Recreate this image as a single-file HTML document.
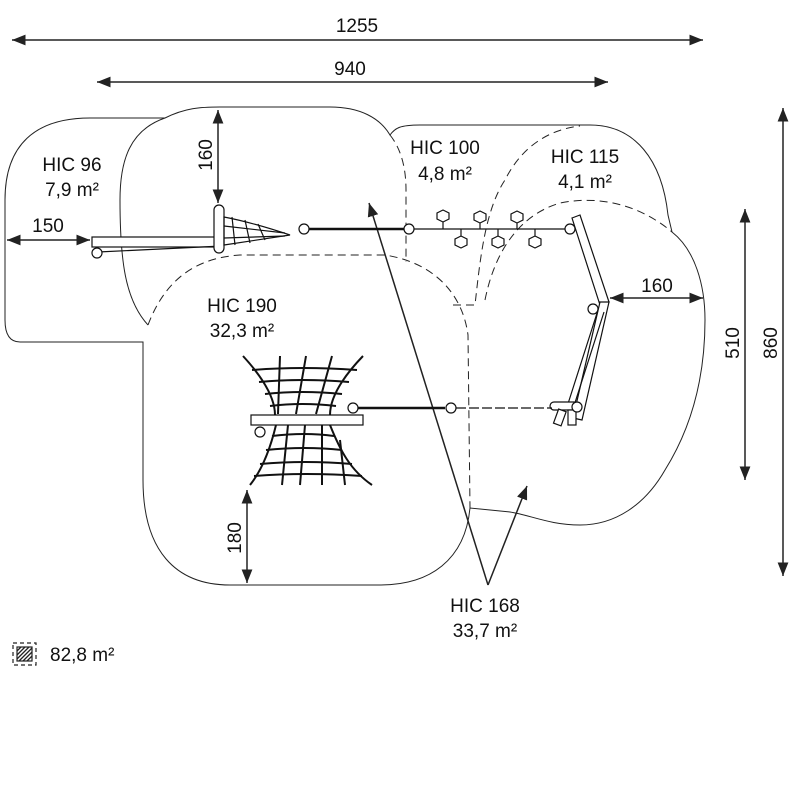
<!DOCTYPE html>
<html><head><meta charset="utf-8"><style>
html,body{margin:0;padding:0;background:#fff;}
svg{display:block;}
text{font-family:"Liberation Sans",sans-serif;font-size:19px;fill:#111;}
</style></head><body>
<svg width="800" height="800" viewBox="0 0 800 800" xmlns="http://www.w3.org/2000/svg">
<defs>
<marker id="a" viewBox="0 0 10 10" refX="10" refY="5" markerWidth="9" markerHeight="9" orient="auto-start-reverse"><path d="M0,1 L10,5 L0,9 Z" fill="#222"/></marker>
</defs>
<g fill="none" stroke="#222" stroke-width="1">
<path d="M5,200 C5,145 35,118 90,118 L165,118 C185,108 200,107 220,107 L330,107 C360,107 380,118 390,135 C395,128 400,125 420,125 L590,125 C635,125 662,160 668,215 L672,232 C695,250 705,285 705,320 C705,380 690,430 665,470 C645,505 615,525 580,525 C550,525 530,515 510,512 L470,508 C465,560 430,585 380,585 L230,585 C175,585 143,550 143,480 L143,342 L20,342 C10,342 5,335 5,320 Z"/>
<path d="M165,118 C130,130 120,160 120,200 C120,260 125,300 148,325"/>
</g>
<g fill="none" stroke="#222" stroke-width="1" stroke-dasharray="8,5">
<path d="M148,325 C165,280 195,258 240,255 L385,255 C430,262 462,290 468,335 L470,508"/>
<path d="M390,135 C402,150 406,170 406,190 L406,262"/>
<path d="M453,305 L475,305 C480,260 485,210 505,180 C520,150 545,130 580,126"/>
<path d="M485,300 C495,250 520,215 560,203 C600,195 640,205 672,232"/>
</g>
<g stroke="#222" stroke-width="1.5" fill="none">
<line x1="12" y1="40" x2="703" y2="40" marker-start="url(#a)" marker-end="url(#a)"/>
<line x1="97" y1="82" x2="608" y2="82" marker-start="url(#a)" marker-end="url(#a)"/>
<line x1="783" y1="108" x2="783" y2="576" marker-start="url(#a)" marker-end="url(#a)"/>
<line x1="745" y1="209" x2="745" y2="480" marker-start="url(#a)" marker-end="url(#a)"/>
<line x1="218" y1="110" x2="218" y2="203" marker-start="url(#a)" marker-end="url(#a)"/>
<line x1="7" y1="240" x2="90" y2="240" marker-start="url(#a)" marker-end="url(#a)"/>
<line x1="610" y1="298" x2="703" y2="298" marker-start="url(#a)" marker-end="url(#a)"/>
<line x1="247" y1="490" x2="247" y2="583" marker-start="url(#a)" marker-end="url(#a)"/>
<line x1="488" y1="585" x2="369" y2="203" marker-end="url(#a)"/>
<line x1="488" y1="585" x2="527" y2="486" marker-end="url(#a)"/>
</g>
<text x="357" y="32" text-anchor="middle">1255</text>
<text x="350" y="75" text-anchor="middle">940</text>
<text x="212" y="155" transform="rotate(-90 212 155)" text-anchor="middle">160</text>
<text x="48" y="232" text-anchor="middle">150</text>
<text x="657" y="292" text-anchor="middle">160</text>
<text x="241" y="538" transform="rotate(-90 241 538)" text-anchor="middle">180</text>
<text x="739" y="343" transform="rotate(-90 739 343)" text-anchor="middle">510</text>
<text x="777" y="343" transform="rotate(-90 777 343)" text-anchor="middle">860</text>
<text x="72" y="171" text-anchor="middle">HIC 96</text>
<text x="72" y="196" text-anchor="middle">7,9 m²</text>
<text x="445" y="154" text-anchor="middle">HIC 100</text>
<text x="445" y="180" text-anchor="middle">4,8 m²</text>
<text x="585" y="163" text-anchor="middle">HIC 115</text>
<text x="585" y="188" text-anchor="middle">4,1 m²</text>
<text x="242" y="312" text-anchor="middle">HIC 190</text>
<text x="242" y="337" text-anchor="middle">32,3 m²</text>
<text x="485" y="612" text-anchor="middle">HIC 168</text>
<text x="485" y="637" text-anchor="middle">33,7 m²</text>
<text x="50" y="661">82,8 m²</text>
<g stroke="#222" fill="none">
<rect x="13" y="643" width="23" height="22" stroke-dasharray="4,3" stroke-width="1.2"/>
<rect x="17" y="647" width="15" height="14" stroke-width="1.2"/>
<path d="M17,651 L21,647 M17,655 L25,647 M17,659 L29,647 M19,661 L32,648 M23,661 L32,652 M27,661 L32,656" stroke-width="1.3"/>
</g>
<g stroke="#111" fill="#fff" stroke-width="1.2">
<rect x="92" y="237" width="130" height="10"/>
<line x1="98" y1="252" x2="222" y2="246"/>
<circle cx="97" cy="253" r="5"/>
<rect x="214" y="205" width="10" height="48" rx="5"/>
<path d="M224,217 C250,222 275,230 290,235 L224,245 Z" fill="none"/>
<path d="M232,217 L235,245 M245,220 L250,243 M258,224 L265,240 M224,226 L285,233 M224,238 L285,236" fill="none"/>
<circle cx="304" cy="229" r="5"/>
<line x1="309" y1="229" x2="404" y2="229" stroke-width="2.5"/>
<circle cx="409" cy="229" r="5"/>
<line x1="414" y1="229" x2="566" y2="229"/>
<circle cx="570" cy="229" r="5"/>
<path d="M443,210 l6,3 v6 l-6,3 l-6,-3 v-6 z M443,222 V229"/>
<path d="M480,211 l6,3 v6 l-6,3 l-6,-3 v-6 z M480,223 V229"/>
<path d="M517,211 l6,3 v6 l-6,3 l-6,-3 v-6 z M517,223 V229"/>
<path d="M461,236 l6,3 v6 l-6,3 l-6,-3 v-6 z M461,229 V236"/>
<path d="M498,236 l6,3 v6 l-6,3 l-6,-3 v-6 z M498,229 V236"/>
<path d="M535,236 l6,3 v6 l-6,3 l-6,-3 v-6 z M535,229 V236"/>
<path d="M572,218 L580,215 L609,302 L600,305 Z"/>
<circle cx="593" cy="309" r="5"/>
<path d="M600,302 L609,302 L582,420 L573,418 Z"/>
<path d="M598,310 L566,410 M604,312 L572,412" fill="none"/>
<rect x="550" y="402" width="28" height="8" rx="4"/>
<rect x="556" y="410" width="8" height="15" transform="rotate(20 560 417)"/>
<rect x="568" y="410" width="8" height="15"/>
<circle cx="577" cy="407" r="5"/>
<circle cx="353" cy="408" r="5"/>
<line x1="358" y1="408" x2="445" y2="408" stroke-width="2.5"/>
<circle cx="451" cy="408" r="5"/>
<line x1="456" y1="408" x2="552" y2="408" stroke-dasharray="10,3"/>
<rect x="251" y="415" width="112" height="10"/>
<circle cx="260" cy="432" r="5"/>
</g>
<g stroke="#111" fill="none" stroke-width="2">
<path d="M243,356 C265,380 275,400 275,415 M363,356 C340,380 330,400 330,415"/>
<path d="M252,370 Q302,366 357,370 M259,382 Q302,378 349,382 M265,394 Q302,390 342,394 M270,406 Q302,402 336,406"/>
<path d="M280,356 L278,414 M306,356 L296,414 M332,356 L316,414"/>
<path d="M276,425 C270,450 262,470 250,485 M330,425 C340,450 350,470 372,485"/>
<path d="M272,436 Q305,432 334,436 M266,450 Q305,446 342,450 M260,464 Q305,460 352,464 M254,476 Q305,472 362,476"/>
<path d="M288,425 L282,485 M305,425 L300,485 M322,425 L322,485 M340,440 L345,485"/>
</g>
</svg>
</body></html>
